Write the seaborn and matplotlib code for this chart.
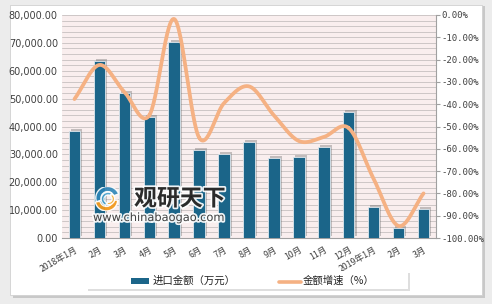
import numpy as np
import pandas as pd
import matplotlib
matplotlib.use("Agg")
import matplotlib.pyplot as plt
import matplotlib.patheffects as pe
from matplotlib.patches import Rectangle, Wedge
import seaborn as sns

months = ["2018年1月", "2月", "3月", "4月", "5月", "6月", "7月", "8月", "9月",
          "10月", "11月", "12月", "2019年1月", "2月", "3月"]
import_amount = [38300, 63600, 52000, 43400, 70200, 31500, 30100, 34400, 28700,
                 29000, 32600, 45200, 11100, 3600, 10400]
growth_rate = [-37.7, -22.4, -34.5, -45.0, -1.8, -55.0, -39.5, -32.0, -45.0,
               -56.5, -54.7, -50.7, -73.5, -94.6, -80.0]
bar_label = "进口金额（万元）"
line_label = "金额增速（%）"

sns.set_theme(style="white")
plt.rcParams['font.family'] = ['Noto Sans CJK SC', 'DejaVu Sans']

BAR = "#1b6589"
LINE = "#f5b183"
TXT = "#404040"

W, H = 492, 304
fig = plt.figure(figsize=(4.92, 3.04), dpi=100)
fig.patch.set_facecolor("#ececec")
# white panel with shadow
fig.patches.append(Rectangle((13 / W, 6 / H), 472 / W, 292 / H, transform=fig.transFigure,
                             facecolor="#c8c8c8", edgecolor="none", zorder=-3))
fig.patches.append(Rectangle((10 / W, 9 / H), 472 / W, 290 / H, transform=fig.transFigure,
                             facecolor="white", edgecolor="#d0d0d0", lw=0.6, zorder=-2))

ax = fig.add_axes([62 / W, 1 - 238 / H, 374 / W, 223 / H])
df = pd.DataFrame({"month": months, "amount": import_amount})
df["idx"] = np.arange(len(months))
sns.barplot(data=df, x="idx", y="amount", color=BAR, width=0.46, ax=ax,
            saturation=1, edgecolor="#dfe8ee", linewidth=0.6, zorder=3)
for p in ax.patches:
    p.set_path_effects([pe.SimplePatchShadow(offset=(1.5, 1.5), shadow_rgbFace="#606060", alpha=0.35),
                        pe.Normal()])

ax.set_facecolor("#f9eeee")
ax.set_ylim(0, 80000)
ax.set_xlim(-0.5, len(months) - 0.5)
ax.set_yticks(np.arange(0, 80001, 10000))
ax.set_yticks(np.arange(0, 80001, 2000), minor=True)
ax.set_yticklabels([f"{v:,.2f}" for v in np.arange(0, 80001, 10000)], fontsize=7, color=TXT,
                   family="DejaVu Sans")
ax.grid(True, which="both", axis="y", color="#cdc6c6", lw=0.7, zorder=0)
ax.set_axisbelow(True)
ax.set_xticks(range(len(months)))
ax.set_xticklabels(months, rotation=30, ha="right", fontsize=6.3, color=TXT, rotation_mode="anchor")
ax.tick_params(axis="x", length=0, pad=5)
ax.tick_params(axis="y", which="both", length=0, pad=3)
ax.set_xlabel("")
ax.set_ylabel("")
for s in ["top", "right", "left"]:
    ax.spines[s].set_visible(False)
ax.spines["bottom"].set_color("#a0a0a0")
ax.spines["bottom"].set_linewidth(0.8)

ax2 = ax.twinx()
# smooth (Catmull-Rom) rendering of the line through the data points
xs = np.arange(len(growth_rate), dtype=float)
ys = np.array(growth_rate, dtype=float)
px = np.concatenate([[xs[0] - (xs[1] - xs[0])], xs, [xs[-1] + (xs[-1] - xs[-2])]])
py = np.concatenate([[ys[0] - (ys[1] - ys[0])], ys, [ys[-1] + (ys[-1] - ys[-2])]])
cx, cy = [], []
t = np.linspace(0, 1, 30)
for i in range(1, len(px) - 2):
    p0, p1, p2, p3 = [np.array([px[j], py[j]]) for j in (i - 1, i, i + 1, i + 2)]
    pts = 0.5 * ((2 * p1)[None, :] + (-p0 + p2)[None, :] * t[:, None]
                 + (2 * p0 - 5 * p1 + 4 * p2 - p3)[None, :] * (t ** 2)[:, None]
                 + (-p0 + 3 * p1 - 3 * p2 + p3)[None, :] * (t ** 3)[:, None])
    cx.extend(pts[:, 0]); cy.extend(pts[:, 1])
sns.lineplot(x=cx, y=cy, ax=ax2, color=LINE, lw=2.7, sort=False, estimator=None,
             solid_capstyle="round")
ax2.set_ylim(-100, 0)
ax2.set_yticks(np.arange(-100, 1, 10))
ax2.set_yticklabels([f"{v:.2f}%" for v in np.arange(-100, 1, 10)], fontsize=6.5, color=TXT,
                    family="DejaVu Sans Mono")
ax2.tick_params(axis="y", length=3, width=0.8, color="#a0a0a0", pad=1, right=True)
for s in ["top", "left", "bottom"]:
    ax2.spines[s].set_visible(False)
ax2.spines["right"].set_color("#a0a0a0")
ax2.spines["right"].set_linewidth(0.8)
ax2.set_xlim(-0.5, len(months) - 0.5)

# legend box
fig.patches.append(Rectangle((88 / W, 1 - 291 / H), 322 / W, 18 / H, transform=fig.transFigure,
                             facecolor="#dedede", edgecolor="none", zorder=1))
fig.patches.append(Rectangle((86 / W, 1 - 289 / H), 322 / W, 18 / H, transform=fig.transFigure,
                             facecolor="white", edgecolor="none", zorder=1))
fig.patches.append(Rectangle((131 / W, 1 - 284 / H), 18 / W, 6 / H, transform=fig.transFigure,
                             facecolor=BAR, edgecolor="none", zorder=2))
fig.text(153 / W, 1 - 281 / H, bar_label, fontsize=7.5, color="#222222", va="center", ha="left")
fig.lines.append(plt.Line2D([279 / W, 301 / W], [1 - 282 / H, 1 - 282 / H],
                            transform=fig.transFigure, color=LINE, lw=2.6, zorder=2))
fig.text(303 / W, 1 - 281 / H, line_label, fontsize=7.5, color="#222222", va="center", ha="left")

# watermark
wm = [pe.withStroke(linewidth=2.5, foreground="white")]
fig.text(134 / W, 1 - 199 / H, "观研天下", fontsize=16.5, fontweight="bold", color="#1a1a1a",
         va="center", ha="left", path_effects=wm, alpha=0.92, zorder=10)
fig.text(93 / W, 1 - 218 / H, "www.chinabaogao.com", fontsize=8.2, color="#333333",
         va="center", ha="left", path_effects=wm, alpha=0.92, zorder=10, family="DejaVu Sans")
lax = fig.add_axes([94 / W, 1 - 211 / H, 26 / W, 24 / H], zorder=10)
lax.set_xlim(-1.1, 1.1); lax.set_ylim(-1.05, 1.05); lax.axis("off")
lax.add_patch(Wedge((0.05, 0.1), 1.0, 20, 200, width=0.45, facecolor="#2f86b8", alpha=0.9))
lax.add_patch(Wedge((0.1, 0.0), 0.6, 60, 250, width=0.25, facecolor="#4aa3d0", alpha=0.9))
lax.add_patch(Wedge((-0.05, -0.1), 0.95, 190, 360, width=0.4, facecolor="#f39a1e", alpha=0.95))
lax.add_patch(Wedge((0.15, 0.0), 0.5, 250, 420, width=0.22, facecolor="#f3b040", alpha=0.95))

fig.savefig("out.png", dpi=100, facecolor=fig.get_facecolor())
